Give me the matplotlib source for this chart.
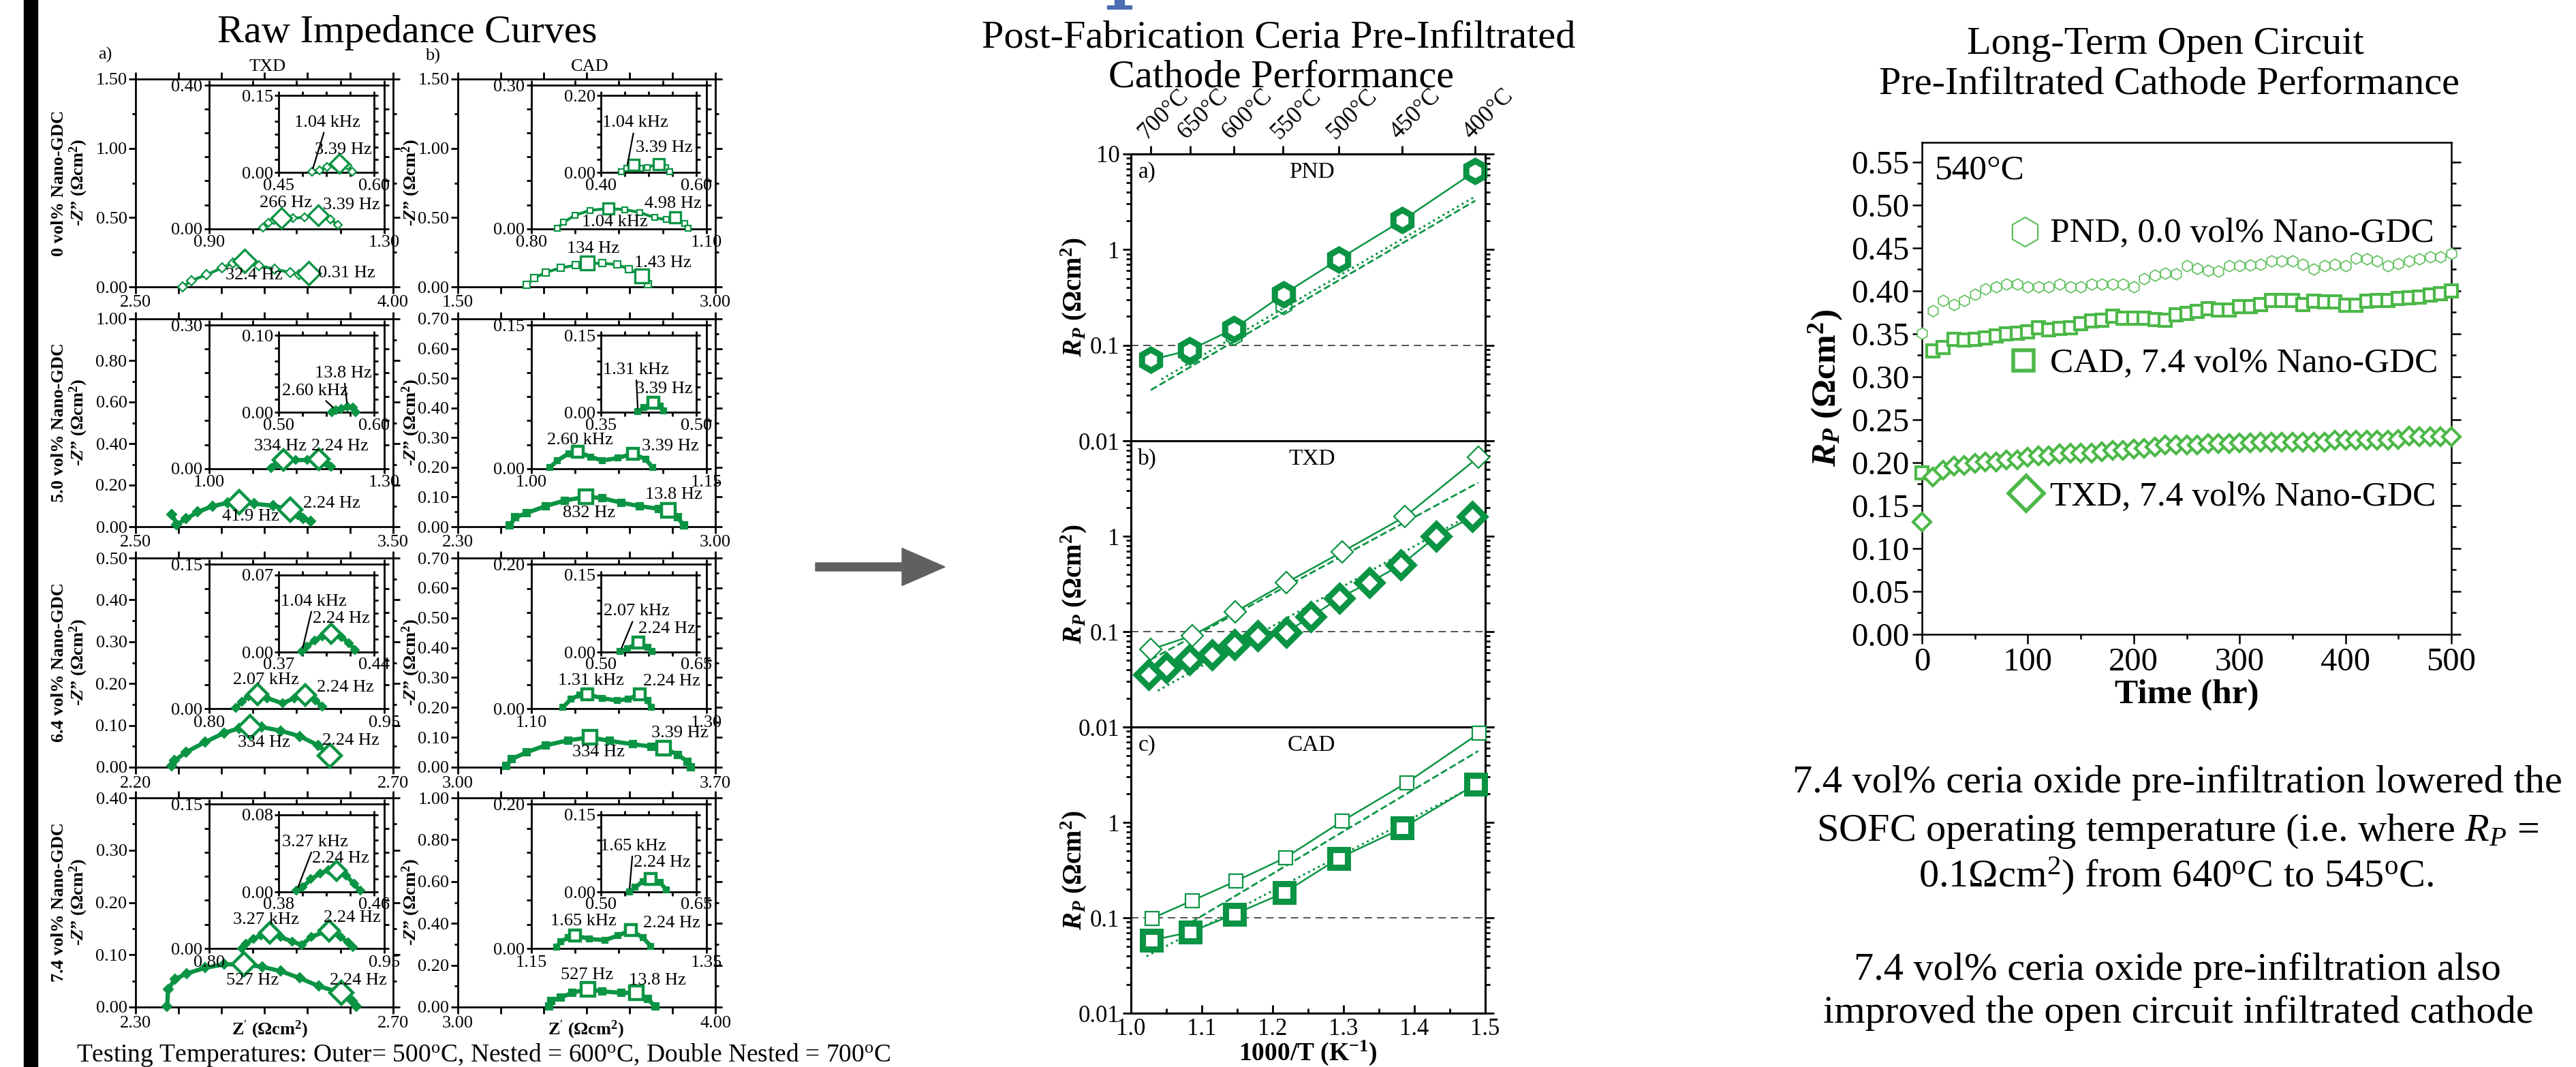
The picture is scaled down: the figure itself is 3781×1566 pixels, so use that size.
import matplotlib
matplotlib.use("Agg")
import matplotlib.pyplot as plt
from matplotlib.patches import Rectangle, FancyArrow
from matplotlib.ticker import FixedLocator, FixedFormatter, MultipleLocator

plt.rcParams['font.family'] = ['Liberation Serif', 'DejaVu Serif']
plt.rcParams['mathtext.fontset'] = 'custom'
plt.rcParams['mathtext.rm'] = 'Liberation Serif'
plt.rcParams['mathtext.it'] = 'Liberation Serif:italic'
plt.rcParams['mathtext.bf'] = 'Liberation Serif:bold'
plt.rcParams['mathtext.bfit'] = 'Liberation Serif:italic:bold'

# ---------------- data: raw impedance curves (Z', -Z'') ----------------
rows = ["0 vol% Nano-GDC", "5.0 vol% Nano-GDC", "6.4 vol% Nano-GDC", "7.4 vol% Nano-GDC"]
cols = ["TXD", "CAD"]

outer_xlim = [[(2.5, 4.0), (1.5, 3.0)], [(2.5, 3.5), (2.3, 3.0)], [(2.2, 2.7), (3.0, 3.7)], [(2.3, 2.7), (3.0, 4.0)]]
outer_ymax = [[1.5, 1.5], [1.0, 0.7], [0.5, 0.7], [0.4, 1.0]]
outer_ystep = [[0.5, 0.5], [0.2, 0.1], [0.1, 0.1], [0.1, 0.2]]
nest_xlim = [[(0.9, 1.3), (0.8, 1.1)], [(1.0, 1.3), (1.0, 1.15)], [(0.8, 0.95), (1.1, 1.3)], [(0.8, 0.95), (1.15, 1.35)]]
nest_ymax = [[0.4, 0.3], [0.3, 0.15], [0.15, 0.2], [0.15, 0.2]]
dbl_xlim = [[(0.45, 0.6), (0.4, 0.6)], [(0.5, 0.6), (0.35, 0.5)], [(0.37, 0.44), (0.5, 0.65)], [(0.38, 0.46), (0.5, 0.65)]]
dbl_ymax = [[0.15, 0.2], [0.1, 0.15], [0.07, 0.15], [0.08, 0.15]]

# 0 vol%
txd0_o = [(2.775, 0.0), (2.826, 0.046), (2.914, 0.087), (3.002, 0.137), (3.068, 0.170), (3.134, 0.186),
          (3.22, 0.153), (3.31, 0.128), (3.40, 0.104), (3.454, 0.087), (3.509, 0.099)]
txd0_n = [(1.023, 0.003), (1.036, 0.016), (1.049, 0.023), (1.066, 0.029), (1.092, 0.029), (1.118, 0.032),
          (1.150, 0.0375), (1.178, 0.026), (1.194, 0.010)]
txd0_d = [(0.502, 0.001), (0.514, 0.0044), (0.526, 0.011), (0.537, 0.0155), (0.545, 0.0178), (0.558, 0.013),
          (0.566, 0.002)]
cad0_o = [(1.90, 0.013), (1.945, 0.063), (2.011, 0.104), (2.099, 0.137), (2.187, 0.156), (2.253, 0.170),
          (2.341, 0.170), (2.43, 0.161), (2.496, 0.128), (2.573, 0.079), (2.606, 0.021)]
cad0_n = [(0.845, 0.0015), (0.855, 0.013), (0.875, 0.028), (0.901, 0.0385), (0.932, 0.042), (0.960, 0.040),
          (0.986, 0.034), (1.011, 0.023), (1.031, 0.019), (1.046, 0.023), (1.063, 0.011), (1.069, 0.0015)]
cad0_d = [(0.443, 0.002), (0.454, 0.011), (0.468, 0.0195), (0.482, 0.011), (0.497, 0.0136), (0.521, 0.0225),
          (0.536, 0.0136), (0.544, 0.002)]
# 5.0 vol%
txd5_o = [(2.641, 0.060), (2.66, 0.011), (2.697, 0.038), (2.741, 0.071), (2.80, 0.099), (2.858, 0.115),
          (2.902, 0.119), (2.961, 0.11), (3.035, 0.101), (3.10, 0.082), (3.13, 0.06), (3.152, 0.038), (3.181, 0.027)]
txd5_n = [(1.106, 0.0015), (1.116, 0.009), (1.127, 0.018), (1.148, 0.0173), (1.168, 0.018), (1.188, 0.019),
          (1.201, 0.011), (1.209, 0.003)]
txd5_d = [(0.556, 0.0006), (0.560, 0.003), (0.566, 0.005), (0.572, 0.0074), (0.578, 0.006), (0.581, 0.0006)]
cad5_o = [(2.441, 0.004), (2.456, 0.031), (2.487, 0.046), (2.538, 0.069), (2.59, 0.088), (2.649, 0.101),
          (2.693, 0.096), (2.744, 0.081), (2.795, 0.069), (2.847, 0.060), (2.872, 0.054), (2.898, 0.031), (2.914, 0.004)]
cad5_n = [(1.016, 0.0012), (1.0225, 0.0084), (1.032, 0.0157), (1.040, 0.0176), (1.051, 0.012), (1.061, 0.0084),
          (1.074, 0.0108), (1.087, 0.0157), (1.098, 0.0096), (1.104, 0.0012)]
cad5_d = [(0.408, 0.001), (0.417, 0.0096), (0.4326, 0.0193), (0.443, 0.0118), (0.449, 0.003)]
# 6.4 vol%
txd6_o = [(2.27, 0.003), (2.276, 0.016), (2.298, 0.036), (2.335, 0.060), (2.372, 0.082), (2.401, 0.093),
          (2.422, 0.096), (2.445, 0.096), (2.482, 0.087), (2.519, 0.074), (2.555, 0.052), (2.577, 0.028)]
txd6_n = [(0.823, 0.001), (0.828, 0.0074), (0.834, 0.0128), (0.8415, 0.0148), (0.850, 0.011), (0.863, 0.0054),
          (0.873, 0.011), (0.8826, 0.0143), (0.891, 0.0086), (0.897, 0.0025)]
txd6_d = [(0.387, 0.0006), (0.3906, 0.0052), (0.3962, 0.0104), (0.4019, 0.0145), (0.4084, 0.0166),
          (0.416, 0.0135), (0.4217, 0.0083), (0.4259, 0.002)]
cad6_o = [(3.131, 0.004), (3.146, 0.027), (3.187, 0.05), (3.238, 0.073), (3.30, 0.09), (3.36, 0.10),
          (3.413, 0.088), (3.475, 0.077), (3.526, 0.069), (3.559, 0.064), (3.598, 0.042), (3.624, 0.019), (3.634, 0.0)]
cad6_n = [(1.136, 0.0016), (1.145, 0.0128), (1.1557, 0.0193), (1.164, 0.0199), (1.181, 0.0144), (1.1985, 0.0112),
          (1.211, 0.0135), (1.224, 0.0199), (1.233, 0.0112), (1.237, 0.0016)]
cad6_d = [(0.530, 0.001), (0.5415, 0.0067), (0.559, 0.0187), (0.574, 0.0089), (0.580, 0.001)]
# 7.4 vol%
txd7_o = [(2.349, 0.001), (2.3505, 0.0336), (2.361, 0.053), (2.379, 0.064), (2.408, 0.075), (2.4375, 0.0816),
          (2.468, 0.0816), (2.4963, 0.077), (2.5257, 0.0685), (2.555, 0.0554), (2.5844, 0.040), (2.6196, 0.027),
          (2.637, 0.0118), (2.643, 0.001)]
txd7_n = [(0.828, 0.0), (0.8315, 0.005), (0.838, 0.0099), (0.8447, 0.0136), (0.852, 0.016), (0.8613, 0.0118),
          (0.8712, 0.0074), (0.8795, 0.0037), (0.8877, 0.0123), (0.9026, 0.0185), (0.9126, 0.0123),
          (0.9192, 0.0062), (0.9235, 0.0012)]
txd7_d = [(0.395, 0.0012), (0.40, 0.0048), (0.4067, 0.0132), (0.415, 0.0192), (0.4217, 0.0228), (0.4283, 0.0216),
          (0.4367, 0.0168), (0.4433, 0.0084), (0.4483, 0.0012)]
cad7_o = [(3.355, 0.002), (3.363, 0.029), (3.40, 0.046), (3.4435, 0.068), (3.505, 0.086), (3.561, 0.075),
          (3.634, 0.068), (3.693, 0.068), (3.737, 0.040), (3.766, 0.002)]
cad7_n = [(1.179, 0.0016), (1.1837, 0.0099), (1.1924, 0.0148), (1.20, 0.018), (1.2165, 0.0132), (1.234, 0.0115),
          (1.2493, 0.018), (1.2638, 0.0253), (1.2778, 0.0148), (1.2865, 0.0033)]
cad7_d = [(0.5445, 0.0), (0.5537, 0.009), (0.5659, 0.0206), (0.578, 0.0251), (0.5933, 0.0183), (0.6024, 0.0046)]

# index of the points drawn with a big marker, and the frequency labels
big_idx = {
    'txd0_o': [5, 10], 'txd0_n': [3, 6], 'txd0_d': [4], 'cad0_o': [5, 9], 'cad0_n': [4, 9], 'cad0_d': [2, 5],
    'txd5_o': [6, 9], 'txd5_n': [2, 5], 'txd5_d': [], 'cad5_o': [5, 10], 'cad5_n': [3, 7], 'cad5_d': [2],
    'txd6_o': [6, 11], 'txd6_n': [3, 7], 'txd6_d': [4], 'cad6_o': [5, 9], 'cad6_n': [3, 7], 'cad6_d': [2],
    'txd7_o': [6, 11], 'txd7_n': [4, 9], 'txd7_d': [5], 'cad7_o': [4, 7], 'cad7_n': [3, 7], 'cad7_d': [3],
}
freq_lab = {
    'txd0_o': ["32.4 Hz", "0.31 Hz"], 'txd0_n': ["266 Hz", "3.39 Hz"], 'txd0_d': ["1.04 kHz", "3.39 Hz"],
    'cad0_o': ["134 Hz", "1.43 Hz"], 'cad0_n': ["1.04 kHz", "4.98 Hz"], 'cad0_d': ["1.04 kHz", "3.39 Hz"],
    'txd5_o': ["41.9 Hz", "2.24 Hz"], 'txd5_n': ["334 Hz", "2.24 Hz"], 'txd5_d': ["2.60 kHz", "13.8 Hz"],
    'cad5_o': ["832 Hz", "13.8 Hz"], 'cad5_n': ["2.60 kHz", "3.39 Hz"], 'cad5_d': ["1.31 kHz", "3.39 Hz"],
    'txd6_o': ["334 Hz", "2.24 Hz"], 'txd6_n': ["2.07 kHz", "2.24 Hz"], 'txd6_d': ["1.04 kHz", "2.24 Hz"],
    'cad6_o': ["334 Hz", "3.39 Hz"], 'cad6_n': ["1.31 kHz", "2.24 Hz"], 'cad6_d': ["2.07 kHz", "2.24 Hz"],
    'txd7_o': ["527 Hz", "2.24 Hz"], 'txd7_n': ["3.27 kHz", "2.24 Hz"], 'txd7_d': ["3.27 kHz", "2.24 Hz"],
    'cad7_o': ["527 Hz", "13.8 Hz"], 'cad7_n': ["1.65 kHz", "2.24 Hz"], 'cad7_d': ["1.65 kHz", "2.24 Hz"],
}

# ---------------- data: Arrhenius plots ----------------
temps_C = [700, 650, 600, 550, 500, 450, 400]
pnd_x = [1.028, 1.083, 1.145, 1.215, 1.293, 1.383, 1.486]
pnd_rp = [0.070, 0.089, 0.148, 0.34, 0.79, 2.02, 6.6]
pnd_rp_b = [0.068, 0.078, 0.125, 0.26, 0.75, 1.9, 6.3]
pnd_dash_x, pnd_dash_y = [1.028, 1.486], [0.034, 3.25]
pnd_dot_x, pnd_dot_y = [1.043, 1.486], [0.044, 3.6]

txd0_x = [1.028, 1.087, 1.147, 1.219, 1.298, 1.387, 1.490]
txd0_rp = [0.065, 0.091, 0.161, 0.325, 0.685, 1.61, 6.7]
txd74_x = [1.025, 1.050, 1.083, 1.114, 1.146, 1.179, 1.219, 1.254, 1.294, 1.337, 1.381, 1.431, 1.482]
txd74_rp = [0.0356, 0.042, 0.051, 0.057, 0.073, 0.091, 0.099, 0.143, 0.225, 0.329, 0.499, 1.0, 1.6]
txd_dash_x, txd_dash_y = [1.028, 1.49], [0.051, 3.64]
txd_dot_x, txd_dot_y = [1.038, 1.482], [0.024, 1.73]

cad0_x = [1.030, 1.087, 1.148, 1.218, 1.298, 1.389, 1.491]
cad0_rp = [0.099, 0.152, 0.242, 0.427, 1.03, 2.6, 8.57]
cad74_x = [1.029, 1.084, 1.146, 1.216, 1.293, 1.383, 1.487]
cad74_rp = [0.058, 0.071, 0.109, 0.183, 0.42, 0.87, 2.52]
cad_dash_x, cad_dash_y = [1.085, 1.49], [0.0897, 5.59]
cad_dot_x, cad_dot_y = [1.022, 1.49], [0.0395, 2.52]

# ---------------- data: long-term test at 540 C ----------------
hours = list(range(0, 501, 10))
lt_pnd = [0.351, 0.377, 0.389, 0.384, 0.389, 0.396, 0.402, 0.405, 0.408, 0.408, 0.405, 0.405, 0.405, 0.408,
          0.405, 0.405, 0.408, 0.408, 0.408, 0.408, 0.405, 0.414, 0.418, 0.421, 0.420, 0.429, 0.426, 0.424,
          0.423, 0.429, 0.429, 0.430, 0.431, 0.435, 0.435, 0.435, 0.431, 0.425, 0.429, 0.431, 0.429, 0.438,
          0.437, 0.435, 0.429, 0.432, 0.435, 0.437, 0.440, 0.440, 0.444]
lt_cad = [0.188, 0.330, 0.334, 0.344, 0.343, 0.344, 0.345, 0.348, 0.350, 0.351, 0.352, 0.357, 0.355, 0.356,
          0.357, 0.362, 0.365, 0.366, 0.371, 0.368, 0.368, 0.368, 0.367, 0.366, 0.372, 0.374, 0.376, 0.379,
          0.378, 0.378, 0.382, 0.382, 0.384, 0.389, 0.389, 0.389, 0.384, 0.388, 0.387, 0.387, 0.383, 0.383,
          0.388, 0.389, 0.389, 0.391, 0.392, 0.393, 0.395, 0.397, 0.400]
lt_txd = [0.131, 0.183, 0.191, 0.196, 0.197, 0.199, 0.201, 0.201, 0.203, 0.203, 0.206, 0.208, 0.208, 0.210,
          0.211, 0.211, 0.211, 0.213, 0.214, 0.214, 0.216, 0.217, 0.218, 0.221, 0.221, 0.221, 0.221, 0.222,
          0.222, 0.222, 0.223, 0.223, 0.224, 0.224, 0.224, 0.224, 0.224, 0.224, 0.224, 0.226, 0.226, 0.226,
          0.226, 0.226, 0.226, 0.227, 0.231, 0.230, 0.230, 0.230, 0.230]
lt_names = ["PND, 0.0 vol% Nano-GDC", "CAD, 7.4 vol% Nano-GDC", "TXD, 7.4 vol% Nano-GDC"]

# ---------------- layout ----------------
W, H = 3781, 1566
G = '#0b9444'
G2 = '#4cb848'
G3 = '#5dbf5a'

fig = plt.figure(figsize=(W / 100, H / 100), dpi=100)


def px_axes(x0, y0, x1, y1):
    return fig.add_axes([x0 / W, 1 - y1 / H, (x1 - x0) / W, (y1 - y0) / H])


def ftext(x, y, s, **kw):
    return fig.text(x / W, 1 - y / H, s, **kw)


fig.add_artist(Rectangle((35 / W, 0), 20 / W, 1, transform=fig.transFigure, color='black'))
fig.add_artist(Rectangle((1636 / W, 1 - 9 / H), 14 / W, 9 / H, transform=fig.transFigure, color='#4a6cb3'))
fig.add_artist(Rectangle((1625 / W, 1 - 13 / H), 36 / W, 5 / H, transform=fig.transFigure, color='#4a6cb3'))
fig.add_artist(FancyArrow(1197 / W, 1 - 832 / H, 190 / W, 0, width=12 / H, head_width=55 / H,
                          head_length=63 / W, length_includes_head=True, transform=fig.transFigure,
                          color='#5f6062'))

# label positions (data coords) and leader lines of the frequency labels
lab_pos = {
    'txd0_o': [(3.19, 0.085), (3.73, 0.10)], 'txd0_n': [(1.075, 0.071), (1.225, 0.065)],
    'txd0_d': [(0.526, 0.098), (0.552, 0.044)], 'cad0_o': [(2.286, 0.277), (2.694, 0.173)],
    'cad0_n': [(0.943, 0.0135), (1.0435, 0.052)], 'cad0_d': [(0.472, 0.129), (0.532, 0.064)],
    'txd5_o': [(2.946, 0.049), (3.262, 0.112)], 'txd5_n': [(1.122, 0.046), (1.224, 0.046)],
    'txd5_d': [(0.538, 0.028), (0.568, 0.051)], 'cad5_o': [(2.657, 0.046), (2.886, 0.108)],
    'cad5_n': [(1.0418, 0.030), (1.119, 0.023)], 'cad5_d': [(0.405, 0.083), (0.449, 0.045)],
    'txd6_o': [(2.449, 0.058), (2.618, 0.063)], 'txd6_n': [(0.849, 0.030), (0.917, 0.022)],
    'txd6_d': [(0.3957, 0.046), (0.416, 0.030)], 'cad6_o': [(3.382, 0.05), (3.603, 0.115)],
    'cad6_n': [(1.1685, 0.039), (1.2606, 0.038)], 'cad6_d': [(0.5563, 0.079), (0.6037, 0.0445)],
    'txd7_o': [(2.4816, 0.051), (2.646, 0.051)], 'txd7_n': [(0.8487, 0.030), (0.9225, 0.032)],
    'txd7_d': [(0.4107, 0.0516), (0.4317, 0.0348)], 'cad7_o': [(3.502, 0.152), (3.774, 0.128)],
    'cad7_n': [(1.210, 0.038), (1.3106, 0.0345)], 'cad7_d': [(0.5506, 0.089), (0.5963, 0.057)],
}
leads = {'txd0_d': [0, None], 'cad0_d': [1, None], 'txd5_d': [1, 3], 'cad5_d': [0, None],
         'txd6_d': [0, None], 'cad6_d': [0, None], 'txd7_d': [0, None], 'cad7_d': [0, None]}

curves = {'txd0_o': txd0_o, 'txd0_n': txd0_n, 'txd0_d': txd0_d, 'cad0_o': cad0_o, 'cad0_n': cad0_n,
          'cad0_d': cad0_d, 'txd5_o': txd5_o, 'txd5_n': txd5_n, 'txd5_d': txd5_d, 'cad5_o': cad5_o,
          'cad5_n': cad5_n, 'cad5_d': cad5_d, 'txd6_o': txd6_o, 'txd6_n': txd6_n, 'txd6_d': txd6_d,
          'cad6_o': cad6_o, 'cad6_n': cad6_n, 'cad6_d': cad6_d, 'txd7_o': txd7_o, 'txd7_n': txd7_n,
          'txd7_d': txd7_d, 'cad7_o': cad7_o, 'cad7_n': cad7_n, 'cad7_d': cad7_d}

col_x = [(199, 577), (672, 1050)]
row_y = [(116, 421), (468, 773), (819, 1126), (1171, 1478)]
FS = 19


def frame(ax, lw=2.0, size=FS, length=7):
    for s in ax.spines.values():
        s.set_linewidth(lw)
    ax.tick_params(which='both', direction='out', top=True, right=True, labelsize=size, width=lw, pad=2)
    ax.tick_params(which='major', length=length)
    ax.tick_params(which='minor', length=length * 0.55)


def end_labels(ax, lo, hi, n, axis):
    ticks = [lo + (hi - lo) * k / (n - 1) for k in range(n)]
    labs = [''] * n
    labs[0], labs[-1] = f"{lo:.2f}", f"{hi:.2f}"
    if axis == 'x':
        ax.set_xticks(ticks)
        ax.set_xticklabels(labs)
    else:
        ax.set_yticks(ticks)
        ax.set_yticklabels(labs)


def draw_curve(ax, key, marker, level, heavy):
    pts = curves[key]
    xs = [p[0] for p in pts]
    ys = [p[1] for p in pts]
    lw = 4.5 if heavy else 3
    ax.plot(xs, ys, '-', color=G, lw=lw, marker=marker, ms=7 if level == 'o' else 6,
            mfc=G if heavy else 'white', mec=G, mew=1.6, zorder=3, clip_on=False)
    bms = {'o': 17, 'n': 15, 'd': 14}[level]
    if marker == 's':
        bms -= 3
    bi = big_idx[key]
    ax.plot([xs[i] for i in bi], [ys[i] for i in bi], marker, ms=bms, mfc='white', mec=G,
            mew=3.2 if heavy else 2.4, zorder=4, clip_on=False)
    ld = leads.get(key, [None, None])
    for s, (tx, ty), li in zip(freq_lab[key], lab_pos[key], ld):
        if li is None:
            ax.text(tx, ty, s, ha='center', va='center', fontsize=FS, zorder=6)
        else:
            ax.annotate(s, xy=pts[li], xytext=(tx, ty), ha='center', va='center', fontsize=FS, zorder=6,
                        arrowprops=dict(arrowstyle='-', color='black', lw=1.6, shrinkA=1, shrinkB=4))


for r in range(4):
    for c in range(2):
        x0, x1 = col_x[c]
        y0, y1 = row_y[r]
        ax = px_axes(x0, y0, x1, y1)
        frame(ax)
        lo, hi = outer_xlim[r][c]
        ax.set_xlim(lo, hi)
        ax.set_ylim(0, outer_ymax[r][c])
        end_labels(ax, lo, hi, 7, 'x')
        st = outer_ystep[r][c]
        nmaj = int(round(outer_ymax[r][c] / st))
        ax.set_yticks([k * st for k in range(nmaj + 1)])
        ax.set_yticklabels([f"{k * st:.2f}" for k in range(nmaj + 1)])
        ax.yaxis.set_minor_locator(MultipleLocator(st / 2))
        mk = 'D' if c == 0 else 's'
        name = ('txd' if c == 0 else 'cad') + ['0', '5', '6', '7'][r]
        heavy = r >= 1
        draw_curve(ax, name + '_o', mk, 'o', heavy)

        ins = ax.inset_axes([0.285, 0.28, 0.68, 0.69])
        frame(ins, length=5)
        lo, hi = nest_xlim[r][c]
        ins.set_xlim(lo, hi)
        ins.set_ylim(0, nest_ymax[r][c])
        end_labels(ins, lo, hi, 5, 'x')
        end_labels(ins, 0, nest_ymax[r][c], 7, 'y')
        draw_curve(ins, name + '_n', mk, 'n', heavy)

        ins2 = ax.inset_axes([0.556, 0.55, 0.37, 0.37])
        frame(ins2, length=4)
        lo, hi = dbl_xlim[r][c]
        ins2.set_xlim(lo, hi)
        ins2.set_ylim(0, dbl_ymax[r][c])
        end_labels(ins2, lo, hi, 5, 'x')
        end_labels(ins2, 0, dbl_ymax[r][c], 7, 'y')
        draw_curve(ins2, name + '_d', mk, 'd', heavy)

    yc = (row_y[r][0] + row_y[r][1]) / 2
    ftext(103, yc, rows[r] + "\n" + r"-$\mathbfit{Z}$” (Ωcm$^{\mathbf{2}}$)", rotation=90, ha='center',
          va='center', fontsize=FS, fontweight='bold', linespacing=1.05, multialignment='center')
    ftext(603, yc, r"-$\mathbfit{Z}$” (Ωcm$^{\mathbf{2}}$)", rotation=90, ha='center', va='center',
          fontsize=FS, fontweight='bold')

for xc in (396, 860):
    ftext(xc, 1511, r"Z$'$ (Ωcm$^{\mathbf{2}}$)", ha='center', va='center', fontsize=FS, fontweight='bold')

ftext(598, 62, "Raw Impedance Curves", ha='center', va='baseline', fontsize=42)
ftext(144, 87, "a)", ha='left', va='baseline', fontsize=FS)
ftext(624, 89, "b)", ha='left', va='baseline', fontsize=FS)
ftext(393, 104, cols[0], ha='center', va='baseline', fontsize=FS)
ftext(866, 104, cols[1], ha='center', va='baseline', fontsize=FS)
ftext(112, 1558, r"Testing Temperatures: Outer= 500$^{\rm o}$C, Nested = 600$^{\rm o}$C, "
                 r"Double Nested = 700$^{\rm o}$C", ha='left', va='baseline', fontsize=27)

# ---------------- middle: Arrhenius panels ----------------
ftext(1877, 70, "Post-Fabrication Ceria Pre-Infiltrated", ha='center', va='baseline', fontsize=42)
ftext(1881, 128, "Cathode Performance", ha='center', va='baseline', fontsize=42)

mid_y = [(226, 647), (647, 1067), (1067, 1487)]
mid_names = ["PND", "TXD", "CAD"]
mid_tags = ["a)", "b)", "c)"]
MFS = 24
TFS = 25
mid_axes = []
for i in range(3):
    ax = px_axes(1660, mid_y[i][0], 2180, mid_y[i][1])
    mid_axes.append(ax)
    ax.set_yscale('log')
    ax.set_xlim(1.0, 1.5)
    ax.set_ylim(0.01, 10)
    for s in ax.spines.values():
        s.set_linewidth(2.2)
    ax.tick_params(which='both', direction='out', right=True, top=False, labelsize=TFS, width=2, pad=3)
    ax.tick_params(which='major', length=9)
    ax.tick_params(which='minor', length=5)
    ax.yaxis.set_major_locator(FixedLocator([0.01, 0.1, 1, 10]))
    ax.yaxis.set_major_formatter(FixedFormatter(["0.01", "0.1", "1", "10" if i == 0 else ""]))
    ax.axhline(0.1, color='#444444', lw=1.3, ls=(0, (6, 4)), zorder=1)
    ax.text(0.02, 0.917, mid_tags[i], transform=ax.transAxes, fontsize=MFS, va='baseline')
    ax.text(0.51, 0.917, mid_names[i], transform=ax.transAxes, fontsize=MFS, va='baseline', ha='center')
    ax.set_ylabel(r"$\mathbfit{R}_{\mathbfit{P}}$ (Ωcm$^{\mathbf{2}}$)", fontsize=28, fontweight='bold')
    ax.yaxis.set_label_coords(-0.12, 0.5)
    if i < 2:
        ax.tick_params(axis='x', which='both', bottom=False, labelbottom=False)
    else:
        ax.xaxis.set_major_locator(MultipleLocator(0.1))
        ax.xaxis.set_minor_locator(MultipleLocator(0.05))
        ax.xaxis.set_major_formatter(plt.FuncFormatter(lambda v, p: f"{v:.1f}"))
        ax.tick_params(axis='x', which='both', direction='in', pad=5)

ftext(1920, 1556, r"1000/T (K$^{\mathbf{-1}}$)", ha='center', va='baseline', fontsize=27, fontweight='bold')

ax_a, ax_b, ax_c = mid_axes
top = ax_a.twiny()
top.set_xlim(1.0, 1.5)
top.set_xticks([1000 / (t + 273.15) for t in temps_C])
top.set_xticklabels([f"{t}°C" for t in temps_C], rotation=45, ha='left', va='bottom',
                    rotation_mode='anchor', fontsize=TFS)
top.tick_params(direction='out', length=9, width=2, pad=2)
top.spines['top'].set_linewidth(2.2)

ax_a.plot(pnd_x, pnd_rp_b, 'h', ms=19, mfc='none', mec=G, mew=1.5, clip_on=False, zorder=3)
ax_a.plot(pnd_x, pnd_rp, '-', color=G, lw=1.8, zorder=2)
ax_a.plot(pnd_x, pnd_rp, 'h', ms=22, mfc='white', mec=G, mew=6.5, clip_on=False, zorder=4)
ax_a.plot(pnd_dash_x, pnd_dash_y, '--', color=G, lw=2)
ax_a.plot(pnd_dot_x, pnd_dot_y, ':', color=G, lw=2.2)

ax_b.plot(txd0_x, txd0_rp, '-', color=G, lw=1.8, zorder=2)
ax_b.plot(txd0_x, txd0_rp, 'D', ms=16, mfc='white', mec=G, mew=1.6, clip_on=False, zorder=3)
ax_b.plot(txd74_x, txd74_rp, '-', color=G, lw=1.8, zorder=2)
ax_b.plot(txd74_x, txd74_rp, 'D', ms=18, mfc='white', mec=G, mew=6.5, clip_on=False, zorder=4)
ax_b.plot(txd_dash_x, txd_dash_y, '--', color=G, lw=2)
ax_b.plot(txd_dot_x, txd_dot_y, ':', color=G, lw=2.2)

ax_c.plot(cad0_x, cad0_rp, '-', color=G, lw=1.8, zorder=2)
ax_c.plot(cad0_x, cad0_rp, 's', ms=15, mfc='white', mec=G, mew=1.6, clip_on=False, zorder=3)
ax_c.plot(cad74_x, cad74_rp, '-', color=G, lw=1.8, zorder=2)
ax_c.plot(cad74_x, cad74_rp, 's', ms=19, mfc='white', mec=G, mew=6.5, clip_on=False, zorder=4)
ax_c.plot(cad_dash_x, cad_dash_y, '--', color=G, lw=2)
ax_c.plot(cad_dot_x, cad_dot_y, ':', color=G, lw=2.2)

# ---------------- right: long-term test ----------------
ftext(3178, 79, "Long-Term Open Circuit", ha='center', va='baseline', fontsize=42)
ftext(3184, 137, "Pre-Infiltrated Cathode Performance", ha='center', va='baseline', fontsize=42)

RFS = 35
axr = px_axes(2821, 209, 3598, 931)
for s in axr.spines.values():
    s.set_linewidth(1.8)
axr.set_xlim(0, 500)
axr.set_ylim(0, 0.573)
axr.tick_params(which='both', direction='out', right=True, top=False, labelsize=RFS, width=1.8)
axr.tick_params(which='major', length=10)
axr.tick_params(which='minor', length=5)
axr.xaxis.set_major_locator(MultipleLocator(100))
axr.xaxis.set_minor_locator(MultipleLocator(50))
axr.yaxis.set_major_locator(FixedLocator([k * 0.05 for k in range(12)]))
axr.yaxis.set_major_formatter(plt.FuncFormatter(lambda v, p: f"{v:.2f}"))
axr.yaxis.set_minor_locator(MultipleLocator(0.025))
axr.plot(hours, lt_pnd, 'h', ms=12, mfc='white', mec=G3, mew=1.2, clip_on=False, zorder=3)
axr.plot(hours, lt_cad, 's', ms=13, mfc='white', mec=G2, mew=3, clip_on=False, zorder=3)
axr.plot(hours, lt_txd, 'D', ms=13, mfc='white', mec=G2, mew=3, clip_on=False, zorder=3)
axr.plot([97], [0.469], 'h', ms=31, mfc='white', mec=G3, mew=1.6)
axr.plot([96], [0.319], 's', ms=22, mfc='white', mec=G2, mew=4)
axr.plot([98.5], [0.164], 'D', ms=26, mfc='white', mec=G2, mew=4)
for name, yb in zip(lt_names, [0.457, 0.3055, 0.150]):
    axr.text(121, yb, name, fontsize=37, va='baseline', ha='left')
axr.text(0.0245, 0.926, "540°C", transform=axr.transAxes, fontsize=37, va='baseline', ha='left')
axr.set_xlabel("Time (hr)", fontsize=37, fontweight='bold', labelpad=2)
ftext(2680, 570, r"$\mathbfit{R}_{\mathbfit{P}}$ (Ωcm$^{\mathbf{2}}$)", rotation=90, ha='center', va='center',
      fontsize=37, fontweight='bold')

ftext(3196, 1163, "7.4 vol% ceria oxide pre-infiltration lowered the", ha='center', va='baseline', fontsize=42)
ftext(3196, 1234, r"SOFC operating temperature (i.e. where $R_P$ =", ha='center', va='baseline', fontsize=42)
ftext(3194, 1302, r"0.1Ωcm$^2$) from 640$^{\rm o}$C to 545$^{\rm o}$C.", ha='center', va='baseline', fontsize=42)
ftext(3196, 1438, "7.4 vol% ceria oxide pre-infiltration also", ha='center', va='baseline', fontsize=42)
ftext(3197, 1501, "improved the open circuit infiltrated cathode", ha='center', va='baseline', fontsize=42)

fig.savefig("out.png", dpi=100)
